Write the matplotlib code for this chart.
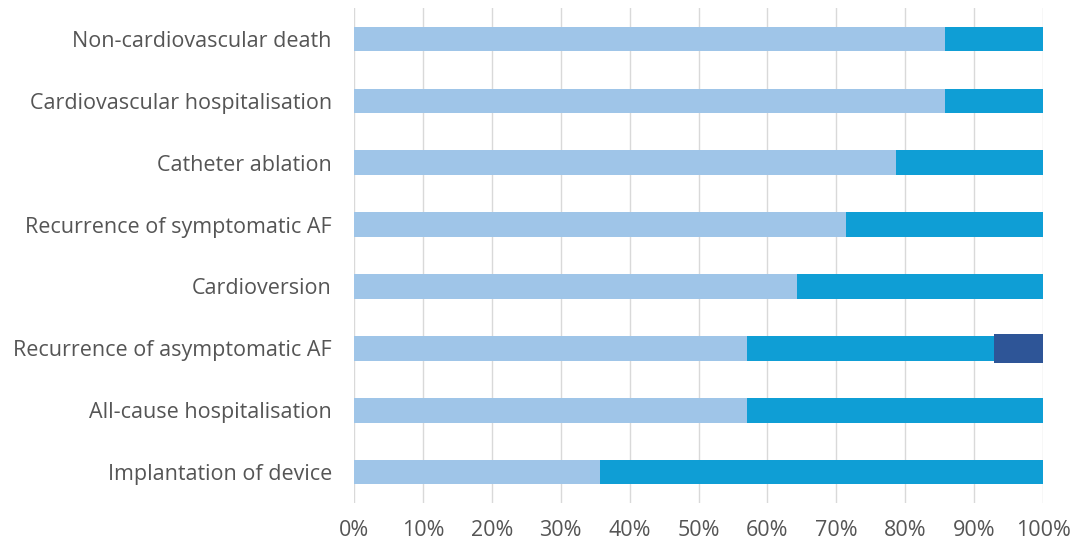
import matplotlib
matplotlib.use("Agg")
import matplotlib.pyplot as plt
from matplotlib.ticker import PercentFormatter

categories = [
    "Implantation of device",
    "All-cause hospitalisation",
    "Recurrence of asymptomatic AF",
    "Cardioversion",
    "Recurrence of symptomatic AF",
    "Catheter ablation",
    "Cardiovascular hospitalisation",
    "Non-cardiovascular death",
]
# share of patients (%) per response category
series_low = [35.7, 57.1, 57.1, 64.3, 71.4, 78.6, 85.7, 85.7]
series_mid = [64.3, 42.9, 35.8, 35.7, 28.6, 21.4, 14.3, 14.3]
series_high = [0.0, 0.0, 7.1, 0.0, 0.0, 0.0, 0.0, 0.0]
x_ticks = [0, 10, 20, 30, 40, 50, 60, 70, 80, 90, 100]

colors = ["#9FC5E8", "#0F9ED5", "#2E5597"]
heights = [0.4, 0.4, 0.46]
text_color = "#555555"

plt.rcParams["font.family"] = ["Open Sans", "DejaVu Sans"]

fig = plt.figure(figsize=(10.81, 5.44), dpi=100)
ax = fig.add_axes([0.3275, 0.0754, 0.6374, 0.9096])

y = range(len(categories))
left = [0.0] * len(categories)
for vals, c, h in zip([series_low, series_mid, series_high], colors, heights):
    ax.barh(y, vals, left=left, height=h, color=c, zorder=3)
    left = [a + b for a, b in zip(left, vals)]

ax.set_xlim(0, 100)
ax.set_ylim(-0.5, len(categories) - 0.5)
ax.set_xticks(x_ticks)
ax.xaxis.set_major_formatter(PercentFormatter(decimals=0))
ax.set_yticks(list(y))
ax.set_yticklabels(categories)
ax.grid(axis="x", color="#D9D9D9", linewidth=1, zorder=0)
for s in ax.spines.values():
    s.set_visible(False)
ax.tick_params(axis="both", length=0, labelsize=15.5, colors=text_color)
ax.tick_params(axis="x", pad=12)
ax.tick_params(axis="y", pad=16)

fig.savefig("out.png", dpi=100)
